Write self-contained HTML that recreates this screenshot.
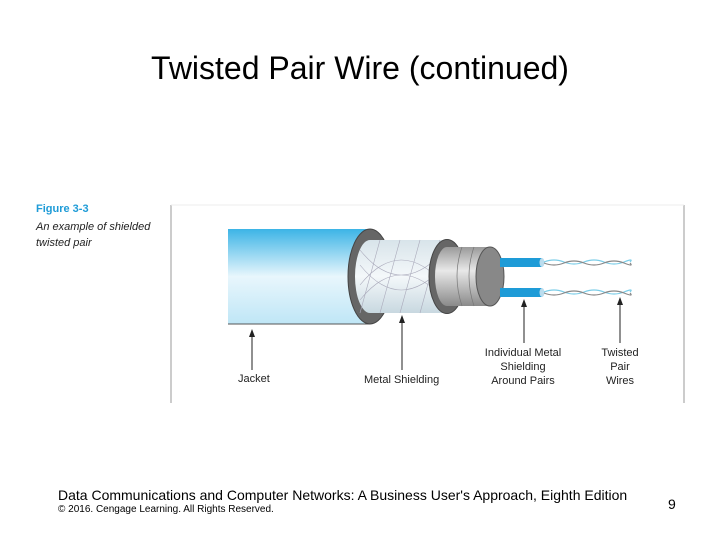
<!DOCTYPE html>
<html><head><meta charset="utf-8"><style>
body{margin:0;width:720px;height:540px;background:#fff;position:relative;font-family:"Liberation Sans",sans-serif;overflow:hidden}
.t{position:absolute;white-space:nowrap}
</style></head><body>
<div class="t" style="left:0;width:720px;text-align:center;top:50px;font-size:32px;color:#000">Twisted Pair Wire (continued)</div>
<div class="t" style="left:36px;top:203px;font-size:11px;font-weight:bold;color:#1e9bd7">Figure 3-3</div>
<div class="t" style="left:36px;top:219px;font-size:11px;font-style:italic;color:#222;line-height:16px">An example of shielded<br>twisted pair</div>
<svg style="position:absolute;left:0;top:0" width="720" height="540">
<defs>
<linearGradient id="j" x1="0" y1="0" x2="0" y2="1"><stop offset="0" stop-color="#3cb4e6"/><stop offset="0.5" stop-color="#e8f6fc"/><stop offset="1" stop-color="#bfe6f6"/></linearGradient>
<linearGradient id="b" x1="0" y1="0" x2="0" y2="1"><stop offset="0" stop-color="#d8e4ea"/><stop offset="0.5" stop-color="#f4f8fa"/><stop offset="1" stop-color="#c8d8e0"/></linearGradient>
<linearGradient id="f" x1="0" y1="0" x2="0" y2="1"><stop offset="0" stop-color="#9a9a9a"/><stop offset="0.4" stop-color="#e8e8e8"/><stop offset="1" stop-color="#8a8a8a"/></linearGradient>
</defs>
<line x1="171" y1="205" x2="171" y2="403" stroke="#999"/>
<line x1="684" y1="205" x2="684" y2="403" stroke="#999"/>
<line x1="171" y1="205" x2="684" y2="205" stroke="#eee"/>
<rect x="228" y="229" width="142" height="95" fill="url(#j)"/>
<line x1="228" y1="324" x2="370" y2="324" stroke="#555"/>
<ellipse cx="370" cy="276.5" rx="22" ry="47.5" fill="#666" stroke="#444"/>
<rect x="370" y="240" width="78" height="73" fill="url(#b)"/>
<ellipse cx="370" cy="276.5" rx="15" ry="36.5" fill="url(#b)"/>
<g stroke="#aab" stroke-width="0.6" fill="none">
<path d="M360,250 Q400,300 445,250 M360,265 Q400,315 445,265 M360,285 Q400,235 445,285 M360,300 Q400,250 445,300"/>
<path d="M380,240 L360,313 M400,240 L380,313 M420,240 L400,313 M440,240 L420,313"/>
</g>
<ellipse cx="447" cy="276.5" rx="18" ry="37" fill="#666" stroke="#444"/>
<rect x="447" y="247" width="43" height="59" fill="url(#f)"/>
<ellipse cx="447" cy="276.5" rx="12" ry="29.5" fill="url(#f)"/>
<g stroke="#777" stroke-width="0.7" fill="none"><path d="M462,247 Q452,276 462,306 M474,247 Q464,276 474,306"/></g>
<ellipse cx="490" cy="276.5" rx="14" ry="29.5" fill="#888" stroke="#555"/>
<rect x="500" y="258" width="42" height="9" fill="#1e9bd7"/>
<rect x="500" y="288" width="42" height="9" fill="#1e9bd7"/>
<ellipse cx="542" cy="262.5" rx="2.5" ry="4.5" fill="#bde"/>
<ellipse cx="542" cy="292.5" rx="2.5" ry="4.5" fill="#bde"/>
<g fill="none" stroke-width="1.2">
<path d="M544,262 q10,-4 20,0 t20,0 t20,0 t20,0 t6,0" stroke="#7ccde8"/>
<path d="M544,263 q10,4 20,0 t20,0 t20,0 t20,0 t6,0" stroke="#888"/>
<path d="M544,292 q10,-4 20,0 t20,0 t20,0 t20,0 t6,0" stroke="#7ccde8"/>
<path d="M544,293 q10,4 20,0 t20,0 t20,0 t20,0 t6,0" stroke="#888"/>
</g>
<g stroke="#222" stroke-width="1">
<line x1="252" y1="336" x2="252" y2="370"/>
<line x1="402" y1="322" x2="402" y2="370"/>
<line x1="524" y1="306" x2="524" y2="343"/>
<line x1="620" y1="304" x2="620" y2="343"/>
</g>
<g fill="#222">
<polygon points="252,329 249,337 255,337"/>
<polygon points="402,315 399,323 405,323"/>
<polygon points="524,299 521,307 527,307"/>
<polygon points="620,297 617,305 623,305"/>
</g>
</svg>
<div class="t" style="left:238px;top:373px;font-size:11px;color:#222">Jacket</div>
<div class="t" style="left:364px;top:374px;font-size:11px;color:#222">Metal Shielding</div>
<div class="t" style="left:482px;top:346px;width:82px;text-align:center;font-size:11px;color:#222;line-height:14px">Individual Metal<br>Shielding<br>Around Pairs</div>
<div class="t" style="left:595px;top:346px;width:50px;text-align:center;font-size:11px;color:#222;line-height:14px">Twisted<br>Pair<br>Wires</div>
<div class="t" style="left:58px;top:487px;font-size:14px;color:#000">Data Communications and Computer Networks: A Business User's Approach, Eighth Edition</div>
<div class="t" style="left:58px;top:504px;font-size:10px;color:#000">© 2016. Cengage Learning. All Rights Reserved.</div>
<div class="t" style="left:668px;top:496px;font-size:14px;color:#000">9</div>
</body></html>
